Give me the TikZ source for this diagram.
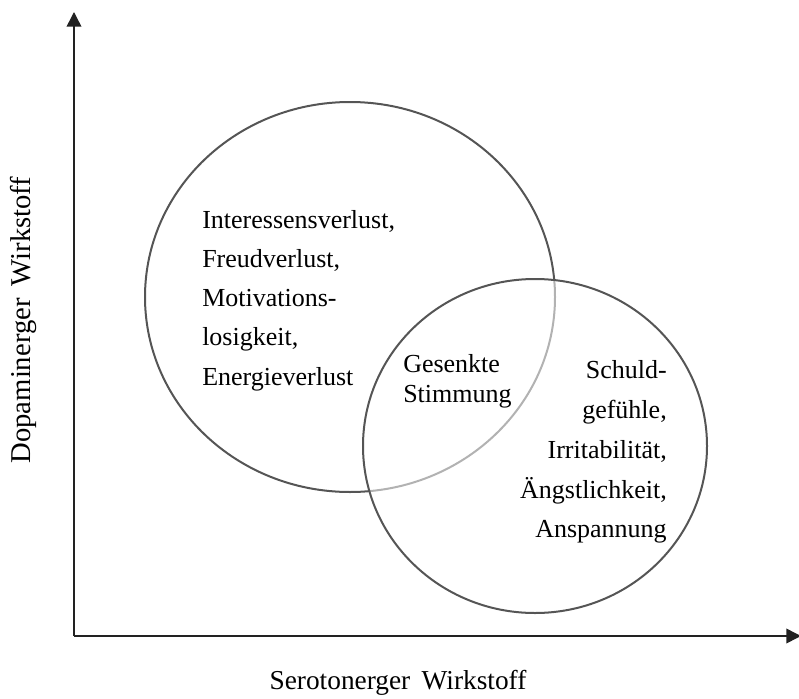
\documentclass[tikz,border=0pt]{standalone}
\usepackage{fontspec}
\setmainfont{Liberation Serif}
\usetikzlibrary{arrows.meta}
\definecolor{ringcol}{HTML}{555555}
\definecolor{axiscol}{HTML}{222222}
\tikzset{
  ring/.style={draw=ringcol, line width=1.5pt},
  axisline/.style={draw=axiscol, line width=1.1pt, -{Triangle[length=11pt,width=11pt]}},
  txt/.style={inner sep=0pt, font=\fontsize{19.5}{24}\selectfont},
  lbl/.style={inner sep=0pt, font=\fontsize{20.5}{24}\selectfont},
  ylbl/.style={inner sep=0pt, font=\fontsize{21.5}{24}\selectfont},
}
\begin{document}
\begin{tikzpicture}[x=0.75pt,y=-0.75pt]
\useasboundingbox (0,0) rectangle (799,699);
\coordinate (O) at (74,636);
\coordinate (ytip) at (74,12);
\coordinate (xtip) at (801,636);
% left circle
\draw[ring] (350,297) ellipse [x radius=205, y radius=195];
% right circle with half transparent fill (lightens left arc inside)
\fill[white, fill opacity=0.55] (535,446) ellipse [x radius=172, y radius=167];
\draw[ring] (535,446) ellipse [x radius=172, y radius=167];
% axes
\draw[axisline] (O) -- (ytip);
\draw[axisline] (O) -- (xtip);
% left block
\node[txt, anchor=base west] (l1) at (202,228) {Interessensverlust,};
\node[txt, anchor=base west] (l2) at (202,267) {Freudverlust,};
\node[txt, anchor=base west] (l3) at (202,306.5) {Motivations-};
\node[txt, anchor=base west] (l4) at (202,345.5) {losigkeit,};
\node[txt, anchor=base west] (l5) at (202,385) {Energieverlust};
% middle
\node[txt, anchor=base west] (m1) at (403,372) {Gesenkte};
\node[txt, anchor=base west] (m2) at (403,402) {Stimmung};
% right block
\node[txt, anchor=base east] (r1) at (667,378) {Schuld-};
\node[txt, anchor=base east] (r2) at (667,418) {gefühle,};
\node[txt, anchor=base east] (r3) at (667,458) {Irritabilität,};
\node[txt, anchor=base east] (r4) at (667,498) {Ängstlichkeit,};
\node[txt, anchor=base east] (r5) at (667,537) {Anspannung};
% axis labels
\node[lbl, anchor=base] (xl) at (398,689) {Serotonerger\, Wirkstoff};
\node[ylbl, anchor=base, rotate=90] (yl) at (30,320) {Dopaminerger\, Wirkstoff};
\end{tikzpicture}
\end{document}
